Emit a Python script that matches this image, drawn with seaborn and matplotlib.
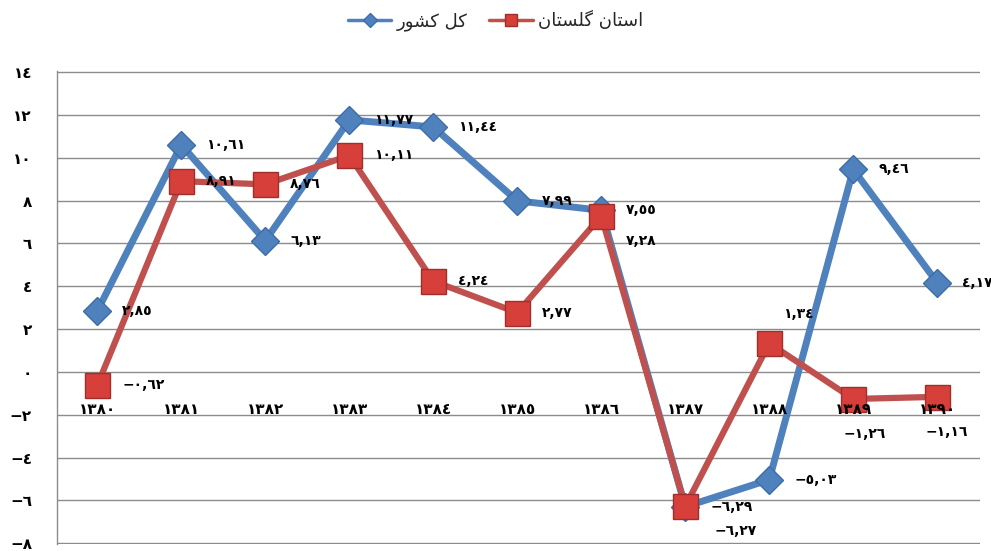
import matplotlib
matplotlib.use("Agg")
import matplotlib.pyplot as plt
from matplotlib.lines import Line2D
import numpy as np
import pandas as pd
import seaborn as sns

# ─────────────────────────────────────────────
# Data
# ─────────────────────────────────────────────
years = [1380, 1381, 1382, 1383, 1384, 1385, 1386, 1387, 1388, 1389, 1390]
iran_total = [2.85, 10.61, 6.13, 11.77, 11.44, 7.99, 7.55, -6.29, -5.03, 9.46, 4.17]
golestan = [-0.62, 8.91, 8.76, 10.11, 4.24, 2.77, 7.28, -6.27, 1.34, -1.26, -1.16]
y_ticks = [-8, -6, -4, -2, 0, 2, 4, 6, 8, 10, 12, 14]

# series names, written in visual order with Arabic presentation forms
# (matplotlib has no bidi / shaping): "کل کشور" and "استان گلستان"
name_iran = "\uFEAD\uFEEE\uFEB8\uFB90 \uFEDE\uFB90"
name_golestan = "\uFEE5\uFE8E\uFE98\uFEB4\uFEE0\uFB94 \uFEE5\uFE8E\uFE98\uFEB3\uFE8D"

# data label offsets in points (dx, dy, ha)
offs_iran = [(18, 0, "left")] * 11
offs_golestan = [
    (18, 0, "left"), (18, 0, "left"), (18, 0, "left"), (18, 0, "left"),
    (18, 0, "left"), (18, 0, "left"), (18, -18, "left"), (21, -18, "left"),
    (10, 21, "left"), (8, -25, "center"), (7, -25, "center"),
]

BLUE = "#4F81BD"
RED = "#C0504D"
GRID = "#8C8C8C"

AR_DIGITS = str.maketrans("0123456789.-", "٠١٢٣٤٥٦٧٨٩,−")


def fa(s):
    return str(s).translate(AR_DIGITS)


sns.set_theme(style="whitegrid")
plt.rcParams["font.family"] = ["DejaVu Sans"]

df = pd.DataFrame(
    {"pos": np.arange(len(years)), "iran": iran_total, "golestan": golestan}
)

fig, ax = plt.subplots(figsize=(9.91, 5.51), dpi=100)
fig.subplots_adjust(left=0.0575, right=0.989, bottom=0.012, top=0.871)

sns.lineplot(
    data=df, x="pos", y="iran", ax=ax, color=BLUE, linewidth=5,
    marker="D", markersize=14, markerfacecolor=BLUE,
    markeredgecolor="#3C6DA8", markeredgewidth=1, zorder=3, legend=False,
)
sns.lineplot(
    data=df, x="pos", y="golestan", ax=ax, color=RED, linewidth=4.5,
    marker="s", markersize=18, markerfacecolor="#D7403A",
    markeredgecolor="#9E2F2B", markeredgewidth=1, zorder=4, legend=False,
)

for vals, offs in [(iran_total, offs_iran), (golestan, offs_golestan)]:
    for i, (v, (dx, dy, ha)) in enumerate(zip(vals, offs)):
        ax.annotate(
            fa(f"{v:.2f}"), (i, v), xytext=(dx, dy), textcoords="offset points",
            ha=ha, va="center", fontsize=10, fontweight="bold", color="black",
            zorder=5,
        )

# axes styling (spine position first: it resets the ticks)
ax.spines["bottom"].set_position(("data", -2))
ax.spines["bottom"].set_visible(False)
for side in ["top", "right"]:
    ax.spines[side].set_visible(False)
ax.spines["left"].set_color(GRID)
ax.spines["left"].set_linewidth(1)

ax.set_xlim(-0.48, 10.51)
ax.set_ylim(-8.05, 14.05)
ax.set_yticks(y_ticks)
ax.set_yticklabels([fa(t) for t in y_ticks], fontsize=11, fontweight="bold")
ax.set_xticks(df["pos"])
ax.set_xticklabels([fa(y) for y in years], fontsize=11, fontweight="bold")
ax.set_xlabel("")
ax.set_ylabel("")

ax.grid(axis="y", color=GRID, linewidth=1)
ax.grid(axis="x", visible=False)
ax.tick_params(axis="x", length=0, pad=-9, colors="black")
ax.tick_params(axis="y", length=0, pad=18, colors="black")
# category labels sit on top of the lines, as in the reference
ax.xaxis.set_zorder(6)

handles = [
    Line2D([], [], color=BLUE, lw=2.5, marker="D", markersize=7,
           markerfacecolor=BLUE, markeredgecolor="#3C6DA8"),
    Line2D([], [], color=RED, lw=2.5, marker="s", markersize=8,
           markerfacecolor="#D7403A", markeredgecolor="#9E2F2B"),
]
fig.legend(
    handles, [name_iran, name_golestan], loc="center",
    bbox_to_anchor=(0.5, 0.962), ncol=2, frameon=False, fontsize=13,
    handlelength=2.4, handletextpad=0.3, columnspacing=1.2,
)

fig.savefig("out.png", dpi=100)
